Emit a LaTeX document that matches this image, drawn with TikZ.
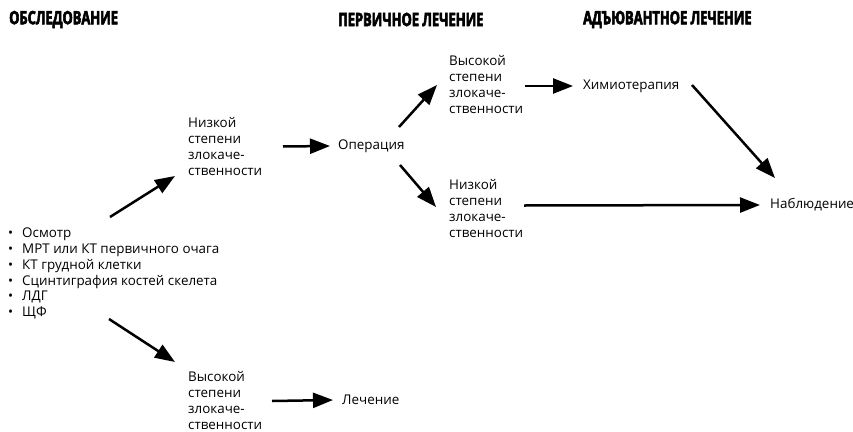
\documentclass[tikz,border=0pt]{standalone}
\usepackage{fontspec}
\setmainfont{Open Sans}
\newfontfamily\hdrfont[FakeStretch=0.7,BoldFeatures={FakeStretch=0.7,FakeBold=3}]{Open Sans}
\usetikzlibrary{arrows.meta}
\begin{document}
\begin{tikzpicture}[x=1pt,y=-1pt,
  txt/.style={inner sep=0pt,anchor=west,align=left,font=\fontsize{13.4}{15.8}\selectfont},
  hdr/.style={inner sep=0pt,anchor=west,font=\hdrfont\bfseries\fontsize{18.4}{20}\selectfont},
  arr/.style={line width=2.5pt,-{Triangle[length=20pt,width=15pt]}}]
\useasboundingbox (0,0) rectangle (853,431);
\node[hdr] (h1) at (9,19.5) {ОБСЛЕДОВАНИЕ};
\node[hdr] (h2) at (338,19.5) {ПЕРВИЧНОЕ ЛЕЧЕНИЕ};
\node[hdr] (h3) at (583,19.5) {АДЪЮВАНТНОЕ ЛЕЧЕНИЕ};
\newcommand\bul{\makebox[14pt][l]{•}}
\node[txt] (list) at (8,273.5) {\bul Осмотр\\\bul МРТ или КТ первичного очага\\\bul КТ грудной клетки\\\bul Сцинтиграфия костей скелета\\\bul ЛДГ\\\bul ЩФ};
\node[txt] (lowU) at (188,146.5) {Низкой\\степени\\злокаче-\\ственности};
\node[txt] (op) at (338,146) {Операция};
\node[txt] (highM) at (449,84.5) {Высокой\\степени\\злокаче-\\ственности};
\node[txt] (chemo) at (583,86) {Химиотерапия};
\node[txt] (lowM) at (449,208.5) {Низкой\\степени\\злокаче-\\ственности};
\node[txt] (obs) at (770,205) {Наблюдение};
\node[txt] (highL) at (188,400.5) {Высокой\\степени\\злокаче-\\ственности};
\node[txt] (treat) at (342,400) {Лечение};
\draw[arr] ([shift={(102,-56.5)}]list.west) -- ([shift={(-13,29.5)}]lowU.west);
\draw[arr] ([shift={(95,0)}]lowU.west) -- ([shift={(-8,0)}]op.west);
\draw[arr] ([shift={(61,-19)}]op.west) -- ([shift={(-12,0.5)}]highM.west);
\draw[arr] ([shift={(76,1.5)}]highM.west) -- ([shift={(-10,0)}]chemo.west);
\draw[arr] ([shift={(109,-1)}]chemo.west) -- ([shift={(5,-27)}]obs.west);
\draw[arr] ([shift={(62,19)}]op.west) -- ([shift={(-13,-1.5)}]lowM.west);
\draw[arr] ([shift={(75,-3)}]lowM.west) -- ([shift={(-10,0)}]obs.west);
\draw[arr] ([shift={(101,45.5)}]list.west) -- ([shift={(-13,-38.5)}]highL.west);
\draw[arr] ([shift={(84,0.5)}]highL.west) -- ([shift={(-9,0)}]treat.west);
\end{tikzpicture}
\end{document}
